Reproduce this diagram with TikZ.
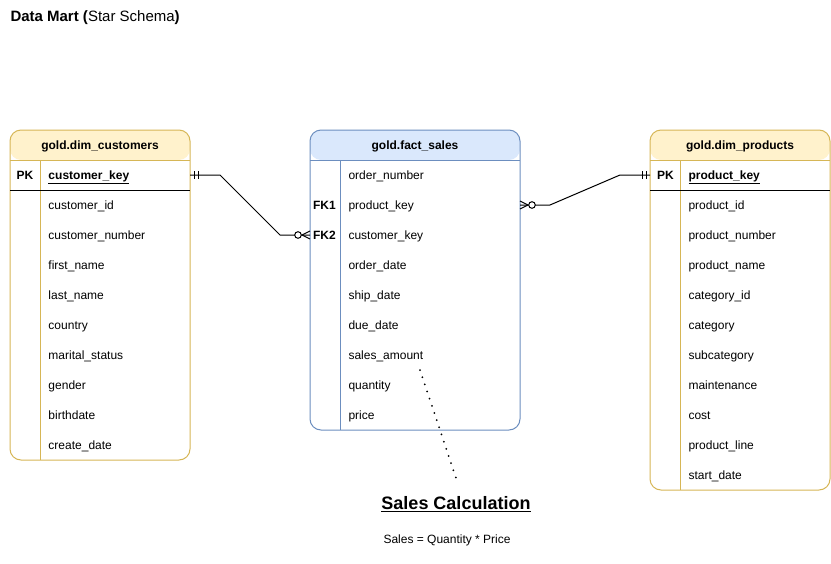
\documentclass[tikz,border=0pt]{standalone}
\usepackage{fontspec}
\setmainfont{Liberation Sans}
\usetikzlibrary{positioning,calc}
\definecolor{yfill}{HTML}{FFF2CC}
\definecolor{yline}{HTML}{D6B656}
\definecolor{bfill}{HTML}{DAE8FC}
\definecolor{bline}{HTML}{6C8EBF}

\begin{document}
\begin{tikzpicture}[x=1pt, y=-1pt, line width=1pt,
    field/.style={anchor=west, inner sep=0pt, text height=10.9pt, text depth=2.5pt, font=\fontsize{12}{14}\selectfont},
    key/.style={field, font=\fontsize{12}{14}\selectfont\bfseries},
    table/.style={draw=#1line, rounded corners=11pt, inner sep=0pt, outer sep=0pt, anchor=north west,
        path picture={\fill[#1fill] (path picture bounding box.north west) rectangle ([yshift=-30pt]path picture bounding box.north east);}},
    dots/.style={line width=2pt, line cap=round, dash pattern=on 0pt off 7.55pt}]
    \useasboundingbox (0,0) rectangle (831,563);

    \node[anchor=base west, inner sep=0pt, font=\fontsize{15}{18}\selectfont] (title) at (10,21.5) {\textbf{Data Mart (}Star Schema\textbf{)}};

    \node[table=y, minimum width=180pt, minimum height=330pt] (cust) at (10,130) {};
    \node[table=b, minimum width=210pt, minimum height=300pt] (sales) at (310,130) {};
    \node[table=y, minimum width=180pt, minimum height=360pt] (prod) at (650,130) {};

    \foreach \t/\c in {cust/yline, sales/bline, prod/yline} {
        \draw[\c] ([yshift=-30pt]\t.north west) -- ([yshift=-30pt]\t.north east);
        \draw[\c] ([shift={(30pt,-30pt)}]\t.north west) -- ([xshift=30pt]\t.south west);
    }
    \draw (cust.west |- 0,190) -- (cust.east |- 0,190);
    \draw (prod.west |- 0,190) -- (prod.east |- 0,190);

    \node[key, anchor=center] (cust-h) at (100,145) {gold.dim\_customers};
    \node[key, anchor=center] (sales-h) at (415,145) {gold.fact\_sales};
    \node[key, anchor=center] (prod-h) at (740,145) {gold.dim\_products};

    \node[key, anchor=center] (cust-pk) at (25,175) {PK};
    \node[key] (cust-k) at (48,175) {\underline{customer\_key}};
    \foreach \f [count=\i] in {customer\_id, customer\_number, first\_name, last\_name, country, marital\_status, gender, birthdate, create\_date}
        \node[field] (cust-\i) at (48,175+30*\i) {\f};

    \node[key, anchor=center] (fk1) at (324.5,205) {FK1};
    \node[key, anchor=center] (fk2) at (324.5,235) {FK2};
    \foreach \f [count=\i from 0] in {order\_number, product\_key, customer\_key, order\_date, ship\_date, due\_date, sales\_amount, quantity, price}
        \node[field] (sales-\i) at (348,175+30*\i) {\f};

    \node[key, anchor=center] (prod-pk) at (665.5,175) {PK};
    \node[key] (prod-k) at (688,175) {\underline{product\_key}};
    \foreach \f [count=\i] in {product\_id, product\_number, product\_name, category\_id, category, subcategory, maintenance, cost, product\_line, start\_date}
        \node[field] (prod-\i) at (688,175+30*\i) {\f};

    \coordinate (c1) at (cust.east |- cust-k);
    \coordinate (c2) at (sales.west |- fk2);
    \coordinate (c3) at (sales.east |- sales-1);
    \coordinate (c4) at (prod.west |- prod-k);

    \draw (c1) -- ++(30,0) -- ($(c2)+(-30,0)$) -- (c2);
    \draw ($(c1)+(4,-4)$) -- ++(0,8) ($(c1)+(8,-4)$) -- ++(0,8);
    \draw ($(c2)+(-8,0)$) -- ($(c2)+(0,-4)$) ($(c2)+(-8,0)$) -- ($(c2)+(0,4)$);
    \draw[fill=white] ($(c2)+(-12,0)$) circle (3.3);

    \draw (c3) -- ++(30,0) -- ($(c4)+(-30,0)$) -- (c4);
    \draw ($(c4)+(-4,-4)$) -- ++(0,8) ($(c4)+(-8,-4)$) -- ++(0,8);
    \draw ($(c3)+(8,0)$) -- ($(c3)+(0,-4)$) ($(c3)+(8,0)$) -- ($(c3)+(0,4)$);
    \draw[fill=white] ($(c3)+(12,0)$) circle (3.3);

    \node[anchor=base, inner sep=0pt, font=\fontsize{18}{21}\selectfont\bfseries] (calc) at (456,509.3) {\underline{Sales Calculation}};
    \node[anchor=base west, inner sep=0pt, font=\fontsize{12}{14}\selectfont] (formula) at (383,543.3) {Sales = Quantity * Price};

    \coordinate (n1) at (420,370);
    \coordinate (n2) at (456,478);
    \draw[dots] (n1) -- (n2);
\end{tikzpicture}
\end{document}
